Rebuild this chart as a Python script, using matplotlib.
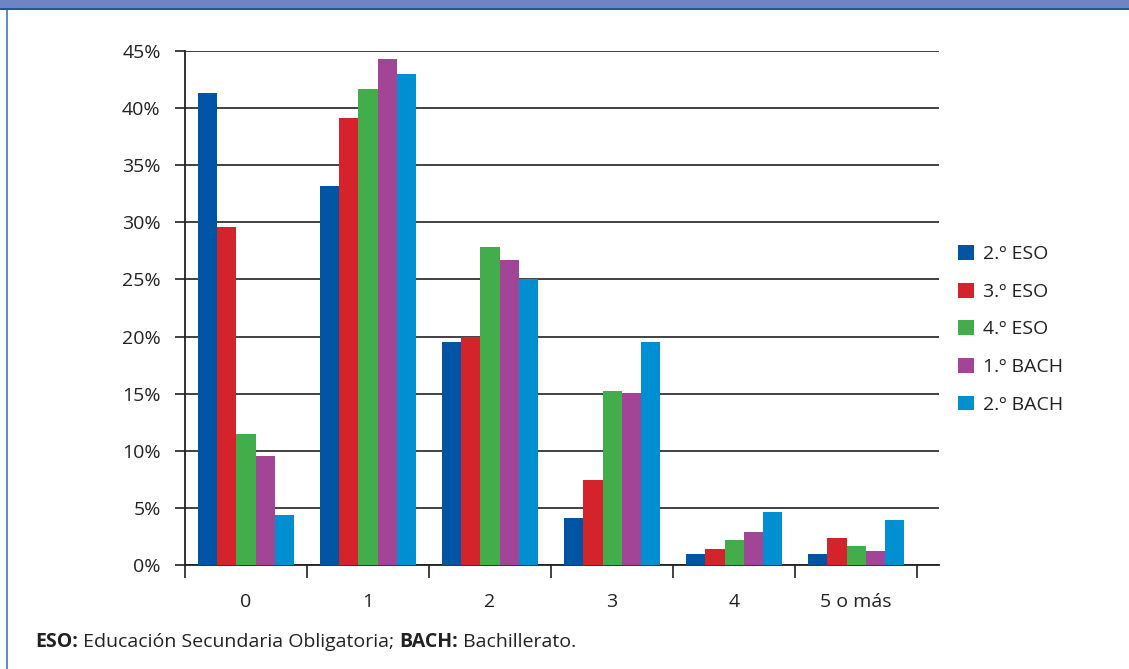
import numpy as np
import matplotlib.pyplot as plt
from matplotlib.patches import Patch, Rectangle
from matplotlib.ticker import FixedLocator

plt.rcParams['font.family'] = ['Open Sans', 'DejaVu Sans']

# 数据
categorias = ['0', '1', '2', '3', '4', '5 o más']
series = ['2.º ESO', '3.º ESO', '4.º ESO', '1.º BACH', '2.º BACH']
eso2 = [41.3, 33.2, 19.5, 4.1, 1.0, 1.0]
eso3 = [29.6, 39.1, 20.0, 7.4, 1.4, 2.4]
eso4 = [11.5, 41.7, 27.8, 15.2, 2.2, 1.7]
bach1 = [9.5, 44.3, 26.7, 15.1, 2.9, 1.2]
bach2 = [4.4, 43.0, 25.0, 19.5, 4.6, 3.9]
colores = ['#0054a4', '#d4232b', '#42ad4a', '#a34596', '#0090d2']

valores = [eso2, eso3, eso4, bach1, bach2]
fs = 14

fig = plt.figure(figsize=(11.29, 6.69), dpi=100)

# 边框和顶部色带
fig.patches.append(Rectangle((0, 1 - 8 / 669), 1, 8 / 669, transform=fig.transFigure,
                             facecolor='#6f84c2', edgecolor='none', zorder=0))
fig.patches.append(Rectangle((0, 1 - 10 / 669), 1, 2 / 669, transform=fig.transFigure,
                             facecolor='#1f5aa0', edgecolor='none', zorder=0))
fig.patches.append(Rectangle((6 / 1129, 0), 2 / 1129, 1 - 10 / 669, transform=fig.transFigure,
                             facecolor='#5b90cc', edgecolor='none', zorder=0))

ax = fig.add_axes([185 / 1129, 1 - 565 / 669, 754 / 1129, 514 / 669])

x = np.arange(len(categorias))
ancho = 0.156
for i, (vals, nombre, c) in enumerate(zip(valores, series, colores)):
    ax.bar(x + (i - 2) * ancho, vals, ancho, color=c, label=nombre, zorder=3)

ax.set_xlim(-0.5, 5.68)
ax.set_ylim(0, 45)
ax.set_yticks(np.arange(0, 46, 5))
ax.set_yticklabels([f'{v}%' for v in range(0, 46, 5)])
ax.grid(axis='y', color='#333333', linewidth=1.3, zorder=1)
ax.set_axisbelow(True)

for s in ['top', 'right']:
    ax.spines[s].set_visible(False)
ax.spines['left'].set_color('#222222')
ax.spines['bottom'].set_color('#222222')
ax.spines['left'].set_linewidth(1.3)
ax.spines['bottom'].set_linewidth(1.3)

ax.set_xticks(x)
ax.set_xticklabels(categorias)
ax.xaxis.set_minor_locator(FixedLocator(np.arange(-0.5, 6, 1)))
ax.tick_params(axis='x', which='major', length=0, pad=20, labelsize=fs, labelcolor='#222222')
ax.tick_params(axis='x', which='minor', length=9, width=1.3, color='#333333')
ax.tick_params(axis='y', length=7.5, width=1.3, color='#333333', pad=10,
               labelsize=fs, labelcolor='#222222')

handles = [Patch(facecolor=c, edgecolor='none') for c in colores]
ax.legend(handles, series, loc='upper left', bbox_to_anchor=(958 / 1129, 1 - 245 / 669),
          bbox_transform=fig.transFigure, frameon=False, fontsize=fs,
          handlelength=0.8, handleheight=0.8, handletextpad=0.5, labelspacing=1.0,
          borderaxespad=0, borderpad=0, labelcolor='#222222')

# 注释
t1 = fig.text(35 / 1129, 1 - 642 / 669, 'ESO:', fontsize=fs, fontweight='bold',
              color='#222222', va='center')
t2 = ax.annotate(' Educación Secundaria Obligatoria; ', xy=(1, 0.5), xycoords=t1,
                 fontsize=fs, color='#222222', va='center')
t3 = ax.annotate('BACH:', xy=(1, 0.5), xycoords=t2, fontsize=fs, fontweight='bold',
                 color='#222222', va='center')
t4 = ax.annotate(' Bachillerato.', xy=(1, 0.5), xycoords=t3, fontsize=fs,
                 color='#222222', va='center')

plt.savefig('out.png', dpi=100)
